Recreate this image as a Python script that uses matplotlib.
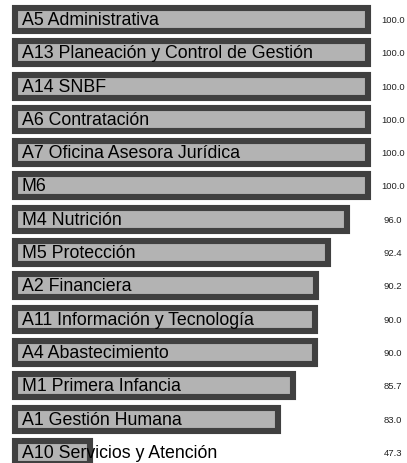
import matplotlib
matplotlib.use('Agg')
import matplotlib.pyplot as plt

areas = ['A5 Administrativa', 'A13 Planeación y Control de Gestión', 'A14 SNBF',
         'A6 Contratación', 'A7 Oficina Asesora Jurídica', 'M6', 'M4 Nutrición',
         'M5 Protección', 'A2 Financiera', 'A11 Información y Tecnología',
         'A4 Abastecimiento', 'M1 Primera Infancia', 'A1 Gestión Humana',
         'A10 Servicios y Atención']
scores = [100.0, 100.0, 100.0, 100.0, 100.0, 100.0, 96.0,
          92.4, 90.2, 90.0, 90.0, 85.7, 83.0, 47.3]
score_labels = ['%.1f' % s for s in scores]

X_MIN = 33.0  # domain start of the scale
X_MAX = 100.0

plt.rcParams['font.family'] = ['Liberation Sans', 'DejaVu Sans']

fig = plt.figure(figsize=(4.07, 4.64), dpi=100)
ax = fig.add_axes([15 / 407, 0, 353 / 407, 1])

y = list(range(len(areas)))
widths = [s - X_MIN for s in scores]
ax.barh(y, widths, left=X_MIN, height=0.69, color='#b3b3b3',
        edgecolor='#404040', linewidth=4.4, clip_on=False, zorder=2)

for i in y:
    ax.annotate(areas[i], (X_MIN, i), xytext=(4.8, 0), textcoords='offset points',
                ha='left', va='center', fontsize=12.8, color='black', zorder=3)
    ax.text(1.071, i, score_labels[i], transform=ax.get_yaxis_transform(),
            ha='center', va='center', fontsize=6.8, color='#222222')

ax.set_xlim(X_MIN, X_MAX)
ax.set_ylim(13.32, -0.616)
ax.axis('off')

fig.savefig('out.png', dpi=100)
